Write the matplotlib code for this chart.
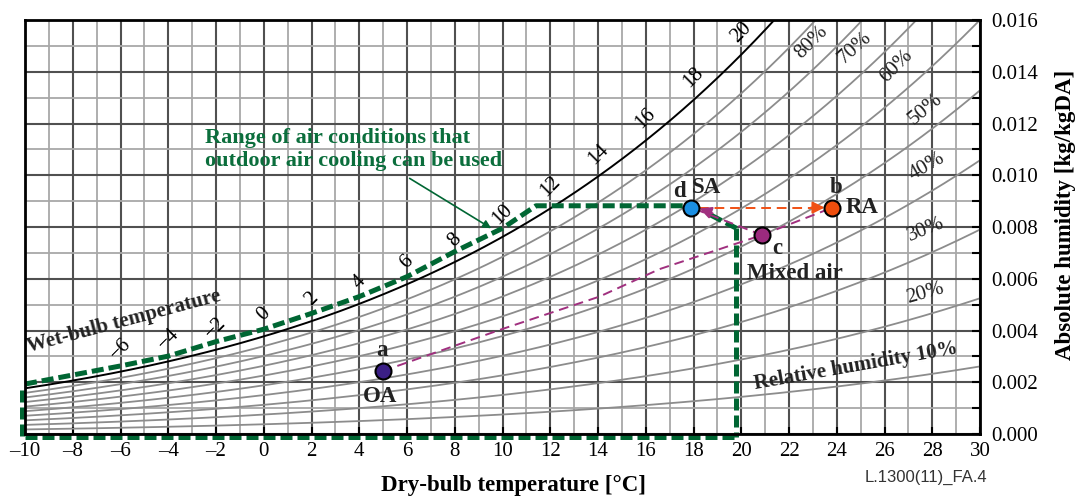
import numpy as np
import matplotlib
matplotlib.use("Agg")
import matplotlib.pyplot as plt

# ---------------- data ----------------
rh_levels = [10, 20, 30, 40, 50, 60, 70, 80, 90]
wb_labels = [-6, -4, -2, 0, 2, 4, 6, 8, 10, 12, 14, 16, 18, 20]
x_ticks = list(range(-10, 31, 2))
y_ticks = [0.000, 0.002, 0.004, 0.006, 0.008, 0.010, 0.012, 0.014, 0.016]

# green boundary
bound_T = [-10, -8, -6, -4, -2, 0, 2, 4, 6, 8, 10, 11.4, 17.6]
bound_w = [0.00193, 0.00228, 0.00263, 0.00301, 0.00357, 0.00405, 0.00466,
           0.00531, 0.00608, 0.00705, 0.00795, 0.00882, 0.00882]
bound_right_T = 19.8
bound_right_top = 0.00795
bound_diag_end = (18.6, 0.00852)

# state points
pts = {
    "OA": (4.98, 0.00243),
    "SA": (17.9, 0.00875),
    "RA": (23.82, 0.00875),
    "MIX": (20.87, 0.00769),
}
mix_T = [4.98, 10.0, 14.06, 16.57, 20.87]
mix_w = [0.00243, 0.00406, 0.00531, 0.00637, 0.00769]

rh_label_pos = {
    "80%": (22.96, 0.01512, 45),
    "70%": (24.77, 0.01491, 42),
    "60%": (26.50, 0.01420, 45),
    "50%": (27.73, 0.01255, 40),
    "40%": (27.76, 0.01033, 30),
    "30%": (27.73, 0.00788, 22),
    "20%": (27.70, 0.00544, 16),
}

# ---------------- psychrometrics ----------------
P = 101.325
def psat(T):
    return 0.61094 * np.exp(17.625 * T / (T + 243.04))
def w_of(T, phi):
    ps = phi * psat(T)
    return 0.622 * ps / (P - ps)

serif = ["Liberation Serif", "DejaVu Serif"]
plt.rcParams["font.family"] = serif
plt.rcParams["axes.unicode_minus"] = True

fig = plt.figure(figsize=(10.76, 4.98), dpi=100)
ax = fig.add_axes([25 / 1076, 1 - 434 / 498, 955 / 1076, 414 / 498])
ax.set_xlim(-10, 30)
ax.set_ylim(0, 0.016)

# grid
for t in range(-10, 31):
    major = (t % 2 == 0)
    ax.axvline(t, color="#505050" if major else "#a8a8a8",
               lw=1.5 if major else 1.3, zorder=1)
for i in range(0, 17):
    major = (i % 2 == 0)
    ax.axhline(i * 0.001, color="#505050" if major else "#a8a8a8",
               lw=1.5 if major else 1.3, zorder=1)

Tf = np.linspace(-10, 30, 400)
for r in rh_levels:
    ax.plot(Tf, w_of(Tf, r / 100), color="#8c8c8c", lw=1.3, zorder=2)
ax.plot(Tf, w_of(Tf, 1.0), color="black", lw=1.4, zorder=3)

# wet-bulb labels
for t in wb_labels:
    ax.annotate(f"{t}".replace("-", "\u2212"), (t, w_of(t, 1.0)),
                xytext=(0, 16), textcoords="offset points",
                rotation=45, ha="center", va="center", fontsize=15, zorder=6)

ax.text(-5.85, 0.00433, "Wet-bulb temperature", rotation=15, ha="center",
        va="center", fontsize=15, fontweight="bold", color="#222222", zorder=6)
ax.text(24.8, 0.00263, "Relative humidity 10%", rotation=10, ha="center",
        va="center", fontsize=15, fontweight="bold", color="#222222", zorder=6)
for lab, (t, w, rot) in rh_label_pos.items():
    ax.text(t, w, lab, rotation=rot, ha="center", va="center", fontsize=15,
            color="#222222", zorder=6)

# green boundary
green = "#006633"
gkw = dict(color=green, lw=3.6, dashes=(2.4, 1.0), solid_capstyle="butt",
           dash_capstyle="butt", zorder=5, clip_on=False)
ax.plot(bound_T, bound_w, **gkw)
ax.plot([bound_right_T, bound_right_T], [bound_right_top, -0.0001], **gkw)
ax.plot([-10, bound_right_T], [-0.0001, -0.0001], **gkw)
ax.plot([-10.13, -10.13], [0.0017, -0.0001], **gkw)
ax.plot([bound_right_T, bound_diag_end[0]], [bound_right_top, bound_diag_end[1]], **gkw)

# mixing path
purple = "#a0307f"
ax.plot(mix_T, mix_w, color=purple, lw=1.4, ls=(0, (5, 3)), zorder=7)
ax.plot([pts["MIX"][0], pts["RA"][0]], [pts["MIX"][1], pts["RA"][1]],
        color=purple, lw=1.4, ls=(0, (5, 3)), zorder=7)
ax.plot([pts["MIX"][0], pts["SA"][0]], [pts["MIX"][1], pts["SA"][1]],
        color=purple, lw=1.4, ls=(0, (5, 3)), zorder=7)
# purple arrowhead at SA
sx, sy = pts["SA"]
ax.annotate("", xy=(sx + 0.35, sy - 0.00003), xytext=(sx + 0.9, sy - 0.00022),
            arrowprops=dict(arrowstyle="-|>", color=purple, lw=1.4,
                            mutation_scale=18, shrinkA=0, shrinkB=0), zorder=8)

# orange arrow SA -> RA
orange = "#f05014"
ax.plot([pts["SA"][0] + 0.35, pts["RA"][0] - 0.6], [pts["SA"][1]] * 2,
        color=orange, lw=1.4, ls=(0, (5, 3)), zorder=7)
ax.annotate("", xy=(pts["RA"][0] - 0.33, pts["RA"][1]),
            xytext=(pts["RA"][0] - 0.9, pts["RA"][1]),
            arrowprops=dict(arrowstyle="-|>", color=orange, lw=1.4,
                            mutation_scale=18, shrinkA=0, shrinkB=0), zorder=8)

# markers
mk = dict(marker="o", ms=11.5, mec="black", mew=1.5, zorder=10, ls="none")
ax.plot(*pts["OA"], mfc="#3b1f86", **mk)
ax.plot(*pts["SA"], mfc="#1a8fe3", **mk)
ax.plot(*pts["RA"], mfc="#ee4d0c", **mk)
ax.plot(*pts["MIX"], mfc="#9c2a7e", **mk)

lab_kw = dict(fontsize=16.5, fontweight="bold", color="#222222", ha="center",
              va="center", zorder=11)
ax.text(4.95, 0.00323, "a", **lab_kw)
ax.text(4.87, 0.00146, "OA", **lab_kw)
ax.text(17.4, 0.00938, "d", **lab_kw)
ax.text(18.55, 0.00952, "SA", **lab_kw)
ax.text(23.97, 0.00951, "b", **lab_kw)
ax.text(25.05, 0.00877, "RA", **lab_kw)
ax.text(21.5, 0.00716, "c", **lab_kw)
ax.text(22.26, 0.00620, "Mixed air", **lab_kw)

# annotation
ax.annotate("", xy=(9.53, 0.00795), xytext=(6.11, 0.00988),
            arrowprops=dict(arrowstyle="-|>", color=green, lw=1.2,
                            mutation_scale=12, shrinkA=0, shrinkB=0), zorder=8)
ax.text(-2.46, 0.01100, "Range of air conditions that\noutdoor air cooling can be used",
        ha="left", va="center", fontsize=16, fontweight="bold", color="#0b6e3c",
        linespacing=1.15, zorder=11)

# axes
for s in ax.spines.values():
    s.set_linewidth(2)
    s.set_zorder(12)
ax.set_xticks(x_ticks)
ax.set_xticklabels([f"{t}".replace("-", "\u2013") for t in x_ticks])
ax.yaxis.tick_right()
ax.yaxis.set_label_position("right")
ax.set_yticks(y_ticks)
ax.set_yticklabels([f"{v:.3f}" for v in y_ticks])
ax.set_yticks(np.arange(0.001, 0.016, 0.002), minor=True)
ax.tick_params(axis="x", direction="in", length=5, width=1.5, labelsize=15, pad=6)
ax.tick_params(axis="y", which="both", direction="in", length=6, width=1.5,
               labelsize=15, pad=8)
ax.set_xlabel("Dry-bulb temperature [\u00b0C]", fontsize=16.5, fontweight="bold")
ax.set_ylabel("Absolute humidity [kg/kgDA]", fontsize=16.5, fontweight="bold")
ax.xaxis.set_label_coords(0.512, -0.100)
ax.yaxis.set_label_coords(1.079, 0.529)

fig.text(926 / 1076, 1 - 477 / 498, "L.1300(11)_FA.4", ha="center", va="center",
         fontsize=12, family=["Liberation Sans", "DejaVu Sans"], color="#333333")

fig.savefig("out.png", dpi=100)
